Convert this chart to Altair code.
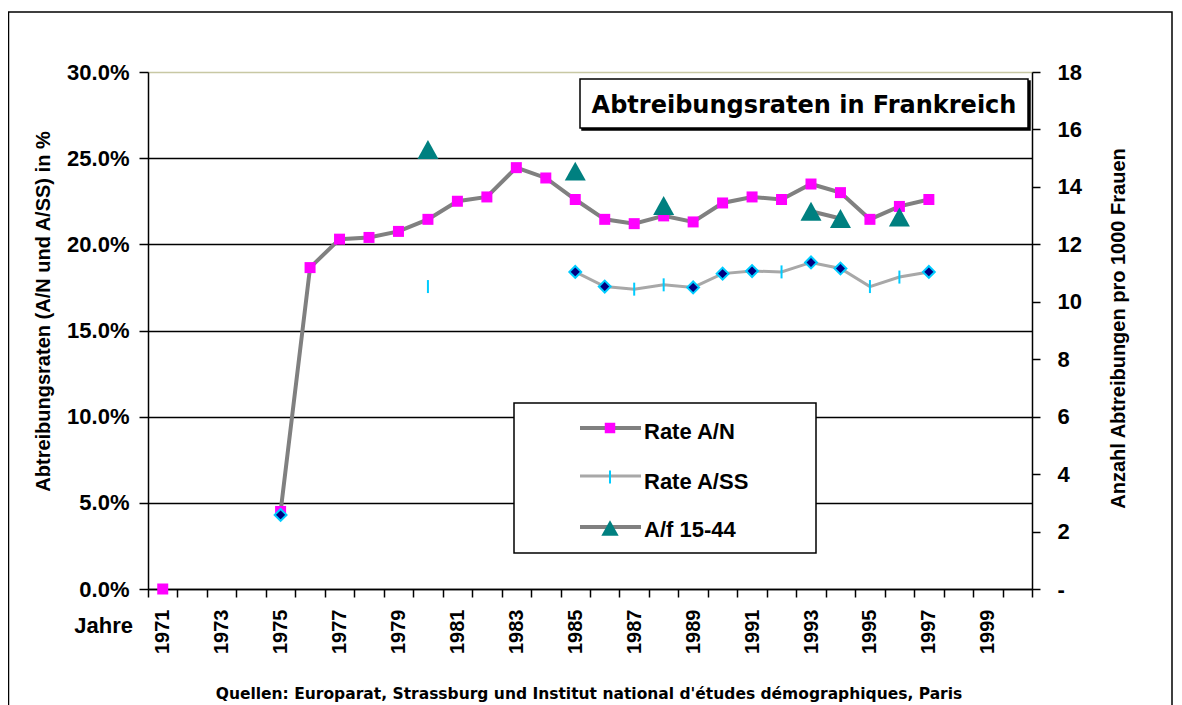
import altair as alt
import pandas as pd

# ---------------- data ----------------
years = list(range(1971, 1998))
# Rate A/N in percent
rate_an = [0.0, None, None, None, 4.5, 18.65, 20.3, 20.4, 20.75, 21.45, 22.5, 22.75,
           24.45, 23.85, 22.6, 21.45, 21.2, 21.65, 21.3, 22.4, 22.75, 22.6, 23.5,
           23.0, 21.45, 22.2, 22.6]
# Rate A/SS in percent
rate_ass = [None, None, None, None, 4.3, None, None, None, None, 17.55, None, None,
            None, None, 18.4, 17.55, 17.4, 17.65, 17.5, 18.3, 18.45, 18.4, 18.95,
            18.6, 17.55, 18.1, 18.4]
# A/f 15-44 (abortions per 1000 women)
af_1544 = [None, None, None, None, None, None, None, None, None, 15.3, None, None,
           None, None, 14.55, None, None, 13.35, None, None, None, None, 13.15,
           12.9, None, 12.95, None]
# years of the A/SS series drawn with a diamond marker (others use a dash marker)
ass_diamond_years = [1975, 1985, 1986, 1989, 1990, 1991, 1993, 1994, 1997]

series_names = ["Rate A/N", "Rate A/SS", "A/f 15-44"]
chart_title = "Abtreibungsraten in Frankreich"
left_title = "Abtreibungsraten (A/N und A/SS) in %"
right_title = "Anzahl Abtreibungen pro 1000 Frauen"
x_title = "Jahre"
source_text = "Quellen: Europarat, Strassburg und Institut national d'études démographiques, Paris"

year_domain = [1970.5, 2000.5]
label_years = list(range(1971, 2000, 2))
boundary_ticks = [1970.5 + i for i in range(31)]
left_ticks = [0.0, 0.05, 0.10, 0.15, 0.20, 0.25, 0.30]
right_ticks = list(range(0, 19, 2))


def series_frame(values, scale=1.0):
    rows, seg, prev = [], 0, None
    for yr, v in zip(years, values):
        if v is None:
            prev = None
            continue
        if prev is None:
            seg += 1
        rows.append({"year": yr, "value": v * scale, "seg": seg})
        prev = yr
    return pd.DataFrame(rows)


df_an = series_frame(rate_an, 0.01)
df_ass = series_frame(rate_ass, 0.01)
df_af = series_frame(af_1544)
df_ass_dia = df_ass[df_ass["year"].isin(ass_diamond_years)]
df_ass_tick = df_ass[~df_ass["year"].isin(ass_diamond_years)]

ARIAL = "Liberation Sans"
WIDE = "DejaVu Sans"
W, H = 884, 517

# ---------------- scales / axes ----------------
x_axis = alt.Axis(
    values=boundary_ticks + label_years,
    tickOpacity={"condition": {"test": "datum.value % 1 != 0", "value": 1}, "value": 0},
    labelExpr="datum.value % 1 == 0 ? format(datum.value, 'd') : ''",
    labelAngle=270, labelAlign="right", labelBaseline="middle",
    labelFont=ARIAL, labelFontSize=20, labelFontWeight="bold", labelColor="black",
    labelPadding=12, labelOverlap=False, labelFlush=False, labelBound=False,
    tickSize=8, tickColor="black", tickWidth=1.5,
    domainColor="black", domainWidth=1.5, grid=False, title=None,
)
X = alt.X("year:Q", scale=alt.Scale(domain=year_domain, nice=False, zero=False), axis=x_axis)

yl_axis = alt.Axis(
    values=left_ticks, format=".1%", orient="left",
    grid=True, gridWidth=1.5,
    gridColor={"condition": {"test": "datum.value > 0.29", "value": "#c8c8a4"}, "value": "black"},
    labelFont=ARIAL, labelFontSize=22, labelFontWeight="bold", labelColor="black",
    labelPadding=10, tickSize=9, tickColor="black", tickWidth=1.5,
    domainColor="black", domainWidth=1.5,
    title=left_title, titleFont=ARIAL, titleFontSize=20, titleFontWeight="bold",
    titleColor="black", titleAngle=270, titleAlign="center", titleBaseline="middle",
    titleX=-105, titleY=239,
)
YL = alt.Y("value:Q", scale=alt.Scale(domain=[0, 0.30], nice=False, zero=True), axis=yl_axis)

yr_axis = alt.Axis(
    values=right_ticks, orient="right", grid=False,
    labelExpr="datum.value == 0 ? '-' : datum.label",
    labelFont=ARIAL, labelFontSize=22, labelFontWeight="bold", labelColor="black",
    labelPadding=17, tickSize=8, tickColor="black", tickWidth=1.5,
    domainColor="black", domainWidth=1.5,
    title=right_title, titleFont=ARIAL, titleFontSize=20, titleFontWeight="bold",
    titleColor="black", titleAngle=270, titleAlign="center", titleBaseline="middle",
    titleX=86, titleY=256,
)
YR = alt.Y("value:Q", scale=alt.Scale(domain=[0, 18], nice=False, zero=True), axis=yr_axis)

GREY_DARK = "#808080"
GREY_LIGHT = "#a8a8a8"
MAGENTA = "#ff00ff"
CYAN = "#00ccff"
NAVY = "#000080"
TEAL = "#008080"
TRI = "M0,-0.9L1,0.9L-1,0.9Z"
DASH = "M0,-1L0,1"

an_line = alt.Chart(df_an).mark_line(color=GREY_DARK, strokeWidth=4).encode(x=X, y=YL, detail="seg:N")
ass_line = alt.Chart(df_ass).mark_line(color=GREY_LIGHT, strokeWidth=3).encode(x=X, y=YL, detail="seg:N")
an_pts = alt.Chart(df_an).mark_point(shape="square", filled=True, size=121, color=MAGENTA, opacity=1).encode(x=X, y=YL)
ass_dia = alt.Chart(df_ass_dia).mark_point(shape="diamond", filled=True, fill=NAVY, stroke=CYAN,
                                          strokeWidth=2, size=140, opacity=1).encode(x=X, y=YL)
ass_tick = alt.Chart(df_ass_tick).mark_point(shape=DASH, filled=False, stroke=CYAN, strokeWidth=2,
                                            size=169, opacity=1).encode(x=X, y=YL)

af_line = alt.Chart(df_af).mark_line(color=GREY_DARK, strokeWidth=4).encode(x=X, y=YR, detail="seg:N")
af_pts = alt.Chart(df_af).mark_point(shape=TRI, filled=True, color=TEAL, size=441, opacity=1).encode(x=X, y=YR)

left = alt.layer(an_line, ass_line, an_pts, ass_dia, ass_tick)
right = alt.layer(af_line, af_pts)

# ---------------- decorations (frame, title box, legend, texts) ----------------
one = pd.DataFrame({"k": [0]})


def box(x, x2, y, y2, fill, stroke="black", sw=1.5):
    return alt.Chart(one).mark_rect(fill=fill, stroke=stroke, strokeWidth=sw).encode(
        x=alt.value(x), x2=alt.value(x2), y=alt.value(y), y2=alt.value(y2))


def text(t, x, y, font, size, align="left", baseline="alphabetic"):
    return alt.Chart(one).mark_text(text=t, font=font, fontSize=size, fontWeight="bold",
                                    color="black", align=align, baseline=baseline).encode(
        x=alt.value(x), y=alt.value(y))


frame = alt.Chart(one).mark_rect(fillOpacity=0, stroke="black", strokeWidth=1.5).encode(
    x=alt.value(-139.5), x2=alt.value(1024), y=alt.value(-60), y2=alt.value(700))

title_shadow = box(434, 882, 9, 58, "black")
title_box = box(432, 880, 7, 56, "white", sw=1.5)
title_txt = text(chart_title, 656, 41, WIDE, 24, align="center")

legend_box = box(366, 668, 331, 481, "white", sw=1.5)
leg_y = [356, 404, 455]
leg_text_y = [367, 417, 465]
leg_line_col = [GREY_DARK, GREY_LIGHT, GREY_DARK]
leg_line_w = [4, 3, 4]
legend_layers = [legend_box]
for i in range(3):
    legend_layers.append(
        alt.Chart(one).mark_rule(color=leg_line_col[i], strokeWidth=leg_line_w[i]).encode(
            x=alt.value(432), x2=alt.value(493), y=alt.value(leg_y[i])))
legend_layers.append(alt.Chart(one).mark_point(shape="square", filled=True, size=110, color=MAGENTA,
                                               opacity=1).encode(x=alt.value(462), y=alt.value(leg_y[0])))
legend_layers.append(alt.Chart(one).mark_point(shape=DASH, filled=False, stroke=CYAN, strokeWidth=2,
                                               size=169, opacity=1).encode(x=alt.value(462), y=alt.value(leg_y[1] + 1)))
legend_layers.append(alt.Chart(one).mark_point(shape=TRI, filled=True, color=TEAL, size=300,
                                               opacity=1).encode(x=alt.value(462), y=alt.value(leg_y[2] + 1)))
for i in range(3):
    legend_layers.append(text(series_names[i], 496, leg_text_y[i], ARIAL, 22))

jahre_txt = text(x_title, -15, 561, ARIAL, 22, align="right")
source_txt = text(source_text, 441, 627, WIDE, 15.5, align="center")

decor = alt.layer(frame, title_shadow, title_box, title_txt, *legend_layers, jahre_txt, source_txt)

chart = (
    alt.layer(left, right, decor)
    .resolve_scale(y="independent")
    .properties(width=W, height=H,
                autosize=alt.AutoSizeParams(type="none"),
                padding={"left": 140, "top": 64, "right": 142, "bottom": 116},
                background="white")
    .configure_view(fill="#ffffcc", stroke="transparent")
    .configure(font=ARIAL)
)

chart.save("out.html", embed_options={"renderer": "svg", "actions": False})
